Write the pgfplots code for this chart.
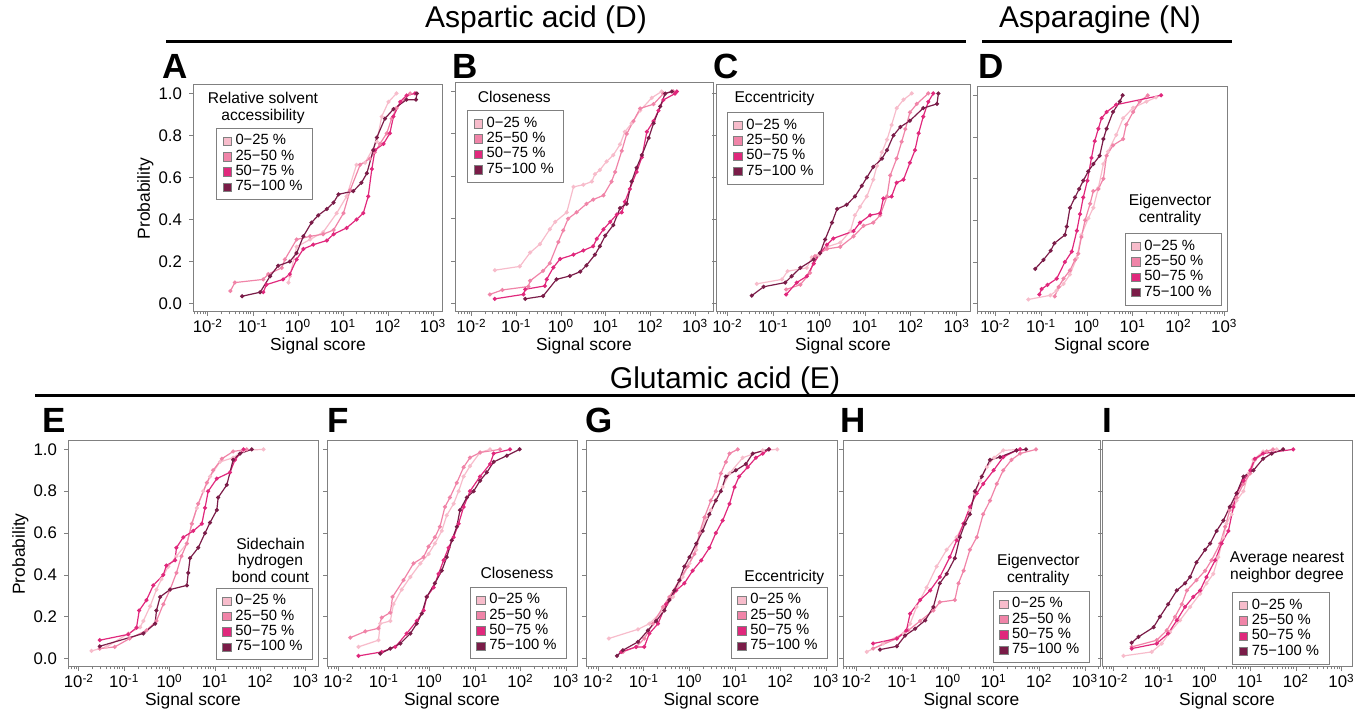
\documentclass[border=0pt]{standalone}
\usepackage{fontspec}
\setmainfont{Liberation Sans}
\usepackage{pgfplots}
\pgfplotsset{compat=1.18}
\definecolor{q1}{RGB}{247,188,203}
\definecolor{q2}{RGB}{240,132,168}
\definecolor{q3}{RGB}{224,40,124}
\definecolor{q4}{RGB}{122,28,72}
\definecolor{frame}{RGB}{128,128,128}

\tikzset{ttl/.style={align=center, inner sep=0pt, font=\fontsize{7.8}{8.3}\selectfont}}
\pgfplotsset{
  panel/.style={
    scale only axis, anchor=south west,
    ymin=-0.04, ymax=1.04,
    ytick={0,0.2,0.4,0.6,0.8,1}, yticklabels={},
    xtick={-2,-1,0,1,2,3},
    xticklabels={10\textsuperscript{-2},10\textsuperscript{-1},10\textsuperscript{0},10\textsuperscript{1},10\textsuperscript{2},10\textsuperscript{3}},
    minor xtick={-2.699,-2.523,-2.398,-2.301,-2.222,-2.155,-2.097,-2.046,
      -1.699,-1.523,-1.398,-1.301,-1.222,-1.155,-1.097,-1.046,
      -0.699,-0.523,-0.398,-0.301,-0.222,-0.155,-0.097,-0.046,
      0.301,0.477,0.602,0.699,0.778,0.845,0.903,0.954,
      1.301,1.477,1.602,1.699,1.778,1.845,1.903,1.954,
      2.301,2.477,2.602,2.699,2.778,2.845,2.903,2.954,3.301},
    tick align=outside, xtick pos=bottom, ytick pos=left,
    major tick length=2pt, minor tick length=1.2pt,
    axis line style={frame, line width=0.5pt},
    tick style={frame, line width=0.4pt},
    tick label style={font=\fontsize{8.4}{9}\selectfont},
    xticklabel style={inner sep=0.5pt, yshift=-0.8pt},
    xlabel={Signal score},
    label style={font=\fontsize{8.7}{9}\selectfont},
    xlabel style={at={(axis description cs:0.5,0)}, anchor=center, yshift=-16.8pt, inner sep=0.5pt},
    legend cell align=left,
    legend style={draw=frame, line width=0.5pt, font=\fontsize{7.4}{8}\selectfont,
      inner xsep=3pt, inner ysep=1pt, row sep=-3pt,
      nodes={inner xsep=2pt}},
    legend image code/.code={\filldraw[#1,draw=frame,line width=0.3pt,mark=none] (0pt,-2.1pt) rectangle (4.2pt,2.1pt);},
    every axis plot/.append style={line width=0.6pt, mark=*, mark size=0.7pt},
  },
  yl/.style={yticklabels={0.0,0.2,0.4,0.6,0.8,1.0}, ylabel={Probability},
    ylabel style={at={(axis description cs:-0.19,0.5)}, anchor=center}},
}

\begin{document}
\begin{tikzpicture}
\path[use as bounding box] (0,0) rectangle (684.5pt,357.5pt);

% ---------- A ----------
\begin{axis}[panel, yl, at={(96.5pt,201.5pt)}, width=125pt, height=113.5pt,
  xmin=-2.33, xmax=3.22, legend style={at={(0.092,0.81)}, anchor=north west}]
\addplot[q1] coordinates {(-0.21,0.10)(-0.18,0.13)(-0.03,0.27)(0.27,0.305)(0.56,0.34)(0.86,0.43)(1.08,0.51)(1.30,0.66)(1.49,0.67)(1.75,0.77)(1.86,0.89)(2.01,0.96)(2.19,1.0)};
\addplot[q2] coordinates {(-1.50,0.06)(-1.40,0.10)(-0.77,0.115)(-0.66,0.14)(-0.36,0.17)(-0.29,0.21)(-0.03,0.305)(0.27,0.32)(0.56,0.33)(0.79,0.35)(1.01,0.43)(1.16,0.54)(1.38,0.66)(1.60,0.69)(1.71,0.72)(1.82,0.76)(1.97,0.81)(2.08,0.88)(2.19,0.93)(2.49,1.0)};
\addplot[q3] coordinates {(-0.77,0.054)(-0.70,0.09)(-0.33,0.115)(-0.18,0.14)(-0.03,0.21)(0.12,0.26)(0.34,0.28)(0.64,0.30)(0.79,0.33)(1.08,0.36)(1.30,0.40)(1.45,0.43)(1.56,0.51)(1.64,0.64)(1.71,0.73)(1.90,0.76)(2.04,0.81)(2.12,0.89)(2.27,0.96)(2.41,0.99)(2.60,1.0)};
\addplot[q4] coordinates {(-1.24,0.035)(-0.84,0.054)(-0.62,0.13)(-0.44,0.18)(-0.18,0.20)(-0.03,0.24)(0.12,0.32)(0.30,0.385)(0.45,0.42)(0.64,0.45)(0.79,0.48)(0.90,0.52)(1.23,0.535)(1.41,0.575)(1.53,0.62)(1.67,0.73)(1.75,0.79)(1.93,0.88)(2.12,0.925)(2.41,0.97)(2.62,0.97)(2.64,1.0)};
\legend{0−25 \%,25−50 \%,50−75 \%,75−100 \%}
\node[ttl] at (rel axis cs:0.28,0.90) {Relative solvent\\accessibility};
\end{axis}

% ---------- B ----------
\begin{axis}[panel, at={(227.5pt,201.5pt)}, width=129pt, height=114.5pt,
  xmin=-2.37, xmax=3.40, legend style={at={(0.047,0.88)}, anchor=north west}]
\addplot[q1] coordinates {(-1.48,0.157)(-0.92,0.175)(-0.69,0.24)(-0.47,0.28)(-0.25,0.35)(-0.13,0.385)(0.13,0.43)(0.28,0.55)(0.50,0.56)(0.69,0.575)(0.76,0.61)(0.87,0.63)(1.02,0.67)(1.17,0.70)(1.32,0.75)(1.43,0.81)(1.58,0.85)(1.77,0.91)(2.03,0.97)(2.25,1.0)};
\addplot[q2] coordinates {(-1.59,0.043)(-1.31,0.064)(-0.73,0.08)(-0.69,0.107)(-0.40,0.154)(-0.25,0.19)(-0.06,0.29)(0.05,0.345)(0.16,0.40)(0.35,0.43)(0.57,0.47)(0.72,0.49)(0.95,0.51)(1.13,0.575)(1.21,0.62)(1.36,0.72)(1.47,0.80)(1.62,0.86)(1.77,0.92)(2.07,0.94)(2.29,0.99)(2.51,1.0)};
\addplot[q3] coordinates {(-1.48,0.022)(-0.84,0.043)(-0.80,0.067)(-0.36,0.083)(-0.32,0.114)(-0.17,0.17)(-0.02,0.21)(0.28,0.23)(0.50,0.25)(0.72,0.27)(0.80,0.305)(0.95,0.35)(1.10,0.385)(1.25,0.42)(1.36,0.43)(1.43,0.48)(1.54,0.54)(1.69,0.62)(1.81,0.69)(1.92,0.81)(2.07,0.86)(2.18,0.91)(2.29,0.96)(2.55,0.99)(2.59,1.0)};
\addplot[q4] coordinates {(-0.80,0.022)(-0.40,0.035)(-0.10,0.114)(0.20,0.13)(0.43,0.15)(0.57,0.18)(0.76,0.23)(0.87,0.27)(0.99,0.32)(1.17,0.37)(1.32,0.45)(1.47,0.47)(1.58,0.575)(1.69,0.64)(1.81,0.70)(1.96,0.78)(2.07,0.85)(2.22,0.93)(2.33,0.99)(2.48,1.0)};
\legend{0−25 \%,25−50 \%,50−75 \%,75−100 \%}
\node[ttl] at (rel axis cs:0.23,0.94) {Closeness};
\end{axis}

% ---------- C ----------
\begin{axis}[panel, at={(358pt,201.5pt)}, width=127pt, height=113.5pt,
  xmin=-2.25, xmax=3.29, legend style={at={(0.043,0.88)}, anchor=north west}]
\addplot[q1] coordinates {(-1.36,0.094)(-0.81,0.115)(-0.69,0.154)(-0.27,0.17)(-0.16,0.22)(-0.01,0.23)(0.17,0.27)(0.46,0.29)(0.68,0.345)(0.78,0.42)(0.89,0.46)(1.04,0.51)(1.18,0.59)(1.26,0.655)(1.37,0.72)(1.48,0.78)(1.58,0.85)(1.69,0.93)(1.84,0.97)(2.02,1.0)};
\addplot[q2] coordinates {(-0.72,0.067)(-0.41,0.09)(-0.20,0.146)(-0.09,0.226)(0.17,0.26)(0.46,0.27)(0.75,0.32)(0.97,0.37)(1.18,0.385)(1.33,0.42)(1.48,0.51)(1.55,0.61)(1.69,0.69)(1.80,0.77)(1.88,0.83)(1.98,0.91)(2.13,0.95)(2.38,1.0)};
\addplot[q3] coordinates {(-0.72,0.043)(-0.49,0.10)(-0.27,0.13)(-0.12,0.19)(0.02,0.24)(0.17,0.28)(0.31,0.31)(0.75,0.345)(0.89,0.385)(1.11,0.42)(1.33,0.43)(1.40,0.50)(1.58,0.51)(1.69,0.575)(1.84,0.59)(1.98,0.67)(2.09,0.73)(2.17,0.81)(2.27,0.89)(2.38,0.96)(2.49,1.0)};
\addplot[q4] coordinates {(-1.47,0.038)(-1.21,0.08)(-0.74,0.10)(-0.60,0.13)(-0.41,0.17)(-0.12,0.21)(0.02,0.24)(0.13,0.305)(0.28,0.385)(0.39,0.45)(0.60,0.47)(0.78,0.51)(0.93,0.56)(1.04,0.60)(1.18,0.65)(1.37,0.69)(1.48,0.73)(1.62,0.80)(1.77,0.84)(1.98,0.87)(2.27,0.93)(2.57,0.95)(2.60,1.0)};
\legend{0−25 \%,25−50 \%,50−75 \%,75−100 \%}
\node[ttl] at (rel axis cs:0.23,0.94) {Eccentricity};
\end{axis}

% ---------- D ----------
\begin{axis}[panel, at={(488.5pt,201.5pt)}, width=125pt, height=112.5pt,
  xmin=-2.40, xmax=3.06, legend style={at={(0.98,0.35)}, anchor=north east}]
\addplot[q1] coordinates {(-1.28,0.02)(-0.80,0.04)(-0.66,0.063)(-0.51,0.095)(-0.37,0.14)(-0.22,0.22)(-0.12,0.33)(0.03,0.41)(0.14,0.46)(0.25,0.555)(0.36,0.67)(0.46,0.73)(0.64,0.81)(0.79,0.89)(1.01,0.94)(1.30,0.97)(1.51,0.99)};
\addplot[q2] coordinates {(-0.70,0.035)(-0.62,0.08)(-0.51,0.12)(-0.37,0.16)(-0.26,0.21)(-0.19,0.24)(-0.12,0.32)(-0.04,0.40)(0.07,0.48)(0.14,0.54)(0.25,0.55)(0.36,0.60)(0.43,0.71)(0.57,0.76)(0.79,0.79)(0.86,0.86)(1.01,0.92)(1.15,0.97)(1.33,1.0)};
\addplot[q3] coordinates {(-1.04,0.044)(-0.99,0.07)(-0.86,0.09)(-0.66,0.12)(-0.48,0.20)(-0.33,0.25)(-0.22,0.35)(-0.15,0.43)(-0.08,0.51)(0.01,0.59)(0.10,0.70)(0.17,0.78)(0.25,0.84)(0.32,0.89)(0.43,0.92)(0.64,0.955)(1.62,1.0)};
\addplot[q4] coordinates {(-1.13,0.167)(-0.95,0.21)(-0.79,0.254)(-0.71,0.29)(-0.48,0.33)(-0.44,0.37)(-0.37,0.46)(-0.26,0.51)(-0.17,0.55)(-0.08,0.59)(0.03,0.635)(0.14,0.67)(0.28,0.71)(0.36,0.79)(0.43,0.84)(0.57,0.92)(0.72,0.97)(0.78,1.0)};
\legend{0−25 \%,25−50 \%,50−75 \%,75−100 \%}
\node[ttl] at (rel axis cs:0.772,0.453) {Eigenvector\\centrality};
\end{axis}

% ---------- E ----------
\begin{axis}[panel, yl, at={(34pt,24pt)}, width=125pt, height=113pt,
  xmin=-2.24, xmax=3.27, legend style={at={(0.98,0.35)}, anchor=north east}]
\addplot[q1] coordinates {(-1.72,0.037)(-1.39,0.056)(-0.91,0.12)(-0.65,0.15)(-0.58,0.18)(-0.43,0.25)(-0.29,0.33)(-0.18,0.38)(-0.03,0.44)(0.15,0.49)(0.38,0.55)(0.49,0.645)(0.60,0.72)(0.74,0.80)(0.89,0.87)(1.11,0.94)(1.40,0.96)(1.63,0.995)(2.07,1.0)};
\addplot[q2] coordinates {(-1.54,0.048)(-1.21,0.056)(-0.88,0.096)(-0.51,0.135)(-0.29,0.18)(-0.14,0.26)(0.01,0.33)(0.15,0.41)(0.26,0.49)(0.38,0.55)(0.49,0.645)(0.63,0.74)(0.82,0.84)(0.96,0.90)(1.15,0.955)(1.40,0.99)(1.70,1.0)};
\addplot[q3] coordinates {(-1.54,0.088)(-0.91,0.116)(-0.73,0.148)(-0.67,0.23)(-0.51,0.28)(-0.36,0.35)(-0.14,0.40)(-0.07,0.445)(0.12,0.47)(0.15,0.53)(0.30,0.58)(0.52,0.61)(0.71,0.645)(0.78,0.72)(0.85,0.80)(1.04,0.86)(1.33,0.89)(1.44,0.95)(1.63,1.0)};
\addplot[q4] coordinates {(-1.54,0.059)(-0.58,0.12)(-0.32,0.167)(-0.29,0.23)(-0.21,0.295)(0.01,0.33)(0.38,0.35)(0.41,0.41)(0.45,0.48)(0.63,0.53)(0.78,0.60)(0.89,0.65)(1.04,0.71)(1.07,0.77)(1.26,0.83)(1.40,0.95)(1.55,0.98)(1.81,1.0)};
\legend{0−25 \%,25−50 \%,50−75 \%,75−100 \%}
\node[ttl] at (rel axis cs:0.81,0.473) {Sidechain\\hydrogen\\bond count};
\end{axis}

% ---------- F ----------
\begin{axis}[panel, at={(163.5pt,24pt)}, width=125pt, height=113pt,
  xmin=-2.25, xmax=3.24, legend style={at={(0.96,0.354)}, anchor=north east}]
\addplot[q1] coordinates {(-1.56,0.056)(-1.12,0.088)(-1.08,0.167)(-0.86,0.18)(-0.79,0.26)(-0.61,0.33)(-0.42,0.39)(-0.20,0.455)(-0.02,0.50)(0.12,0.55)(0.27,0.61)(0.38,0.685)(0.53,0.74)(0.64,0.80)(0.75,0.87)(0.89,0.92)(1.11,0.985)(1.33,1.0)};
\addplot[q2] coordinates {(-1.74,0.10)(-1.41,0.13)(-1.12,0.145)(-1.05,0.196)(-0.86,0.22)(-0.81,0.295)(-0.57,0.375)(-0.35,0.455)(-0.13,0.485)(-0.02,0.535)(0.12,0.58)(0.23,0.63)(0.34,0.725)(0.45,0.77)(0.60,0.84)(0.75,0.915)(0.89,0.96)(1.11,0.985)(1.55,1.0)};
\addplot[q3] coordinates {(-1.56,0.013)(-1.05,0.032)(-0.75,0.056)(-0.50,0.12)(-0.28,0.18)(-0.13,0.23)(-0.06,0.295)(0.09,0.34)(0.20,0.405)(0.31,0.47)(0.42,0.53)(0.53,0.58)(0.64,0.645)(0.75,0.725)(0.89,0.80)(1.11,0.87)(1.33,0.93)(1.41,0.98)(1.77,1.0)};
\addplot[q4] coordinates {(-1.08,0.024)(-0.86,0.048)(-0.64,0.072)(-0.42,0.12)(-0.28,0.167)(-0.17,0.215)(-0.06,0.295)(0.12,0.36)(0.27,0.42)(0.38,0.485)(0.49,0.565)(0.60,0.63)(0.67,0.71)(0.82,0.77)(0.97,0.80)(1.11,0.85)(1.26,0.89)(1.41,0.94)(1.70,0.97)(1.98,1.0)};
\legend{0−25 \%,25−50 \%,50−75 \%,75−100 \%}
\node[ttl] at (rel axis cs:0.76,0.416) {Closeness};
\end{axis}

% ---------- G ----------
\begin{axis}[panel, at={(293pt,24pt)}, width=125.5pt, height=113pt,
  xmin=-2.27, xmax=3.24, legend style={at={(0.964,0.354)}, anchor=north east}]
\addplot[q1] coordinates {(-1.77,0.096)(-1.13,0.14)(-0.88,0.167)(-0.58,0.23)(-0.36,0.295)(-0.15,0.39)(0.00,0.455)(0.15,0.52)(0.26,0.61)(0.36,0.67)(0.47,0.71)(0.58,0.755)(0.73,0.82)(0.88,0.885)(1.17,0.96)(1.61,0.995)(1.93,1.0)};
\addplot[q2] coordinates {(-1.46,0.032)(-1.17,0.056)(-0.99,0.096)(-0.80,0.167)(-0.58,0.247)(-0.44,0.295)(-0.22,0.375)(-0.04,0.44)(0.11,0.50)(0.22,0.60)(0.33,0.675)(0.47,0.755)(0.58,0.80)(0.69,0.885)(0.80,0.94)(0.88,0.98)(1.06,1.0)};
\addplot[q3] coordinates {(-1.50,0.032)(-1.17,0.056)(-0.99,0.056)(-0.88,0.12)(-0.69,0.167)(-0.51,0.26)(-0.29,0.326)(-0.11,0.36)(0.07,0.42)(0.26,0.47)(0.44,0.53)(0.58,0.60)(0.73,0.66)(0.88,0.74)(0.99,0.82)(1.09,0.87)(1.28,0.915)(1.46,0.96)(1.61,0.98)(1.75,1.0)};
\addplot[q4] coordinates {(-1.59,0.013)(-1.46,0.04)(-1.13,0.08)(-0.91,0.135)(-0.73,0.18)(-0.55,0.23)(-0.44,0.28)(-0.33,0.326)(-0.22,0.375)(-0.11,0.44)(0.00,0.485)(0.15,0.55)(0.29,0.61)(0.44,0.69)(0.58,0.755)(0.69,0.80)(0.80,0.87)(1.02,0.90)(1.24,0.93)(1.39,0.98)(1.74,1.0)};
\legend{0−25 \%,25−50 \%,50−75 \%,75−100 \%}
\node[ttl] at (rel axis cs:0.79,0.394) {Eccentricity};
\end{axis}

% ---------- H ----------
\begin{axis}[panel, at={(421.5pt,24pt)}, width=128.5pt, height=113pt,
  xmin=-2.30, xmax=3.33, legend style={at={(0.96,0.336)}, anchor=north east}]
\addplot[q1] coordinates {(-1.78,0.032)(-1.42,0.072)(-0.98,0.12)(-0.83,0.167)(-0.69,0.247)(-0.47,0.34)(-0.25,0.44)(-0.03,0.52)(0.19,0.58)(0.34,0.645)(0.48,0.71)(0.59,0.79)(0.70,0.85)(0.85,0.915)(1.01,0.96)(1.21,0.995)(1.58,1.0)};
\addplot[q2] coordinates {(-1.64,0.048)(-1.12,0.096)(-0.87,0.135)(-0.61,0.18)(-0.32,0.23)(-0.18,0.27)(0.15,0.28)(0.23,0.36)(0.34,0.42)(0.48,0.52)(0.63,0.58)(0.77,0.69)(0.92,0.755)(1.07,0.835)(1.21,0.90)(1.39,0.95)(1.58,0.98)(1.93,1.0)};
\addplot[q3] coordinates {(-1.64,0.072)(-1.12,0.096)(-0.91,0.135)(-0.83,0.215)(-0.61,0.28)(-0.39,0.326)(-0.18,0.39)(0.04,0.485)(0.19,0.565)(0.34,0.645)(0.48,0.725)(0.63,0.79)(0.77,0.835)(1.00,0.90)(1.21,0.963)(1.50,0.995)(1.58,1.0)};
\addplot[q4] coordinates {(-1.49,0.043)(-1.12,0.059)(-0.94,0.11)(-0.72,0.143)(-0.50,0.183)(-0.32,0.247)(-0.18,0.36)(-0.03,0.405)(0.15,0.48)(0.26,0.58)(0.37,0.645)(0.48,0.69)(0.59,0.80)(0.74,0.87)(0.92,0.95)(1.14,0.963)(1.50,0.995)(1.71,1.0)};
\legend{0−25 \%,25−50 \%,50−75 \%,75−100 \%}
\node[ttl] at (rel axis cs:0.76,0.43) {Eigenvector\\centrality};
\end{axis}

% ---------- I ----------
\begin{axis}[panel, at={(551pt,24pt)}, width=125pt, height=113pt,
  xmin=-2.25, xmax=3.23, legend style={at={(0.91,0.33)}, anchor=north east}]
\addplot[q1] coordinates {(-1.78,0.013)(-1.16,0.032)(-0.94,0.072)(-0.76,0.127)(-0.54,0.183)(-0.32,0.247)(-0.10,0.31)(0.04,0.36)(0.19,0.405)(0.30,0.485)(0.41,0.58)(0.48,0.645)(0.59,0.69)(0.70,0.755)(0.85,0.80)(0.96,0.885)(1.07,0.95)(1.28,0.99)(1.58,1.0)};
\addplot[q2] coordinates {(-1.60,0.056)(-1.05,0.088)(-0.83,0.135)(-0.65,0.20)(-0.50,0.26)(-0.39,0.326)(-0.18,0.375)(0.01,0.42)(0.15,0.47)(0.34,0.55)(0.45,0.63)(0.55,0.71)(0.70,0.77)(0.85,0.835)(1.00,0.885)(1.10,0.95)(1.36,0.99)(1.50,1.0)};
\addplot[q3] coordinates {(-1.60,0.048)(-1.05,0.072)(-0.80,0.12)(-0.61,0.183)(-0.43,0.247)(-0.25,0.295)(-0.10,0.326)(0.04,0.39)(0.23,0.47)(0.37,0.55)(0.52,0.61)(0.63,0.725)(0.70,0.79)(0.85,0.85)(1.00,0.90)(1.10,0.955)(1.28,0.98)(1.94,1.0)};
\addplot[q4] coordinates {(-1.60,0.076)(-1.45,0.104)(-1.12,0.15)(-0.98,0.20)(-0.80,0.26)(-0.61,0.326)(-0.43,0.36)(-0.32,0.39)(-0.18,0.46)(0.01,0.52)(0.12,0.55)(0.26,0.61)(0.41,0.66)(0.55,0.725)(0.70,0.79)(0.85,0.87)(1.07,0.90)(1.28,0.955)(1.47,0.98)(1.72,1.0)};
\legend{0−25 \%,25−50 \%,50−75 \%,75−100 \%}
\node[ttl] at (rel axis cs:0.74,0.44) {Average nearest\\neighbor degree};
\end{axis}

% ---------- headers and panel letters ----------
\node[font=\fontsize{15}{16}\selectfont] at (268pt,347.5pt) {Aspartic acid (D)};
\draw[line width=1.5pt] (83pt,336.5pt) -- (483pt,336.5pt);
\node[font=\fontsize{15}{16}\selectfont] at (550pt,347.5pt) {Asparagine (N)};
\draw[line width=1.5pt] (491pt,336.5pt) -- (616pt,336.5pt);
\node[font=\fontsize{15}{16}\selectfont] at (362.5pt,167pt) {Glutamic acid (E)};
\draw[line width=1.5pt] (17.5pt,159.5pt) -- (677.5pt,159.5pt);
\foreach \l/\x in {A/81,B/226,C/356.5,D/489} \node[font=\fontsize{17.5}{18}\bfseries\selectfont, anchor=west, inner sep=0pt] at (\x pt,324.5pt) {\l};
\foreach \l/\x in {E/21,F/163.5,G/292.5,H/420,I/551} \node[font=\fontsize{17.5}{18}\bfseries\selectfont, anchor=west, inner sep=0pt] at (\x pt,147.5pt) {\l};
\end{tikzpicture}
\end{document}
